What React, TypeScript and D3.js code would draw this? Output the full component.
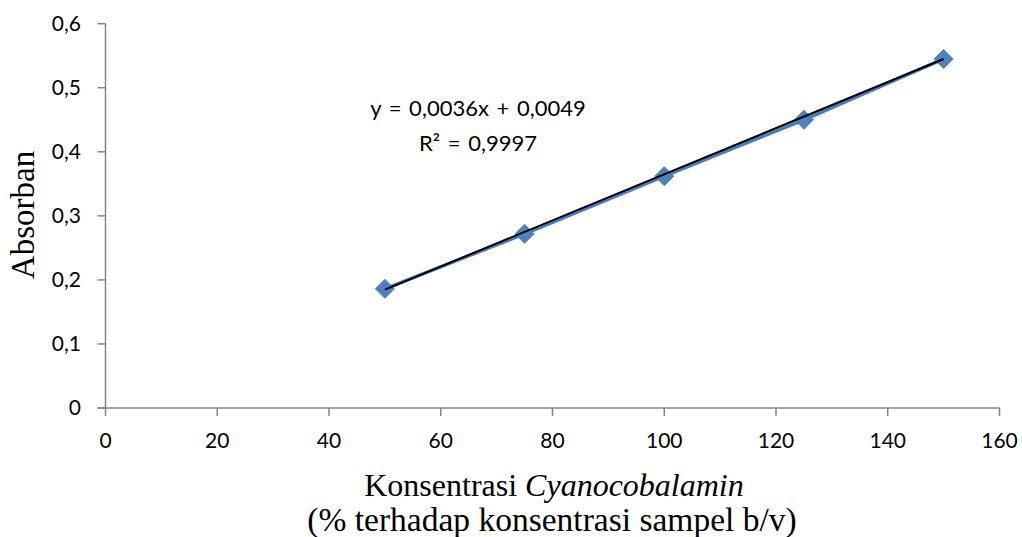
import React from "react";
import * as d3 from "d3";

const concentrations = [50, 75, 100, 125, 150];
const absorbances = [0.186, 0.272, 0.362, 0.45, 0.545];
const xTicks = [0, 20, 40, 60, 80, 100, 120, 140, 160];
const yTicks = [0, 0.1, 0.2, 0.3, 0.4, 0.5, 0.6];
const slope = 0.0036;
const intercept = 0.0049;
const equationLines = ["y = 0,0036x + 0,0049", "R² = 0,9997"];

const W = 1022;
const H = 537;
const tickFont = "Lato, 'Open Sans', sans-serif";
const titleFont = "'Liberation Serif', 'Times New Roman', serif";

export default function App() {
  const x = d3.scaleLinear().domain([0, 160]).range([105.5, 999.5]);
  const y = d3.scaleLinear().domain([0, 0.6]).range([408, 23.7]);
  const pts = concentrations.map((c, i) => [x(c), y(absorbances[i])] as [number, number]);
  const line = d3.line()(pts) || "";
  const tx0 = 50, tx1 = 150;
  const fmt = (v: number) => (v === 0 ? "0" : v.toFixed(1).replace(".", ","));
  const axisColor = "#868686";
  return (
    <svg width={W} height={H} style={{ position: "absolute", left: 0, top: 0, background: "#fff" }}>
      {/* axes */}
      <line x1={x(0)} x2={x(0)} y1={y(0.6)} y2={y(0)} stroke={axisColor} strokeWidth={1.5} />
      <line x1={x(0) - 8} x2={x(160)} y1={y(0)} y2={y(0)} stroke={axisColor} strokeWidth={1.5} />
      {yTicks.map((t) => (
        <g key={"y" + t}>
          <line x1={x(0) - 8} x2={x(0)} y1={y(t)} y2={y(t)} stroke={axisColor} strokeWidth={1.5} />
          <text x={81} y={y(t)} dy="0.35em" textAnchor="end" fontFamily={tickFont} fontSize={21} fill="#000">
            {fmt(t)}
          </text>
        </g>
      ))}
      {xTicks.map((t) => (
        <g key={"x" + t}>
          <line x1={x(t)} x2={x(t)} y1={y(0)} y2={y(0) + 8} stroke={axisColor} strokeWidth={1.5} />
          <text x={x(t)} y={441} dy="0.35em" textAnchor="middle" fontFamily={tickFont} fontSize={21} fill="#000">
            {t}
          </text>
        </g>
      ))}
      {/* series line */}
      <path d={line} fill="none" stroke="#4a7ebb" strokeWidth={3.5} />
      {pts.map(([px, py], i) => (
        <path
          key={"m" + i}
          d={`M${px},${py - 9.5}L${px + 9.5},${py}L${px},${py + 9.5}L${px - 9.5},${py}Z`}
          fill="#4f81bd"
          stroke="#4a7ebb"
          strokeWidth={1}
        />
      ))}
      {/* trendline */}
      <line
        x1={x(tx0)}
        y1={y(slope * tx0 + intercept)}
        x2={x(tx1)}
        y2={y(slope * tx1 + intercept)}
        stroke="#000"
        strokeWidth={2}
      />
      {/* equation */}
      {equationLines.map((s, i) => (
        <text key={"e" + i} x={478} y={108 + i * 35} dy="0.35em" textAnchor="middle" fontFamily={tickFont} fontSize={22} wordSpacing={2} fill="#000">
          {s}
        </text>
      ))}
      {/* y title */}
      <text
        transform={`translate(22,215) rotate(-90)`}
        textAnchor="middle"
        dy="0.35em"
        fontFamily={titleFont}
        fontSize={33}
        fill="#000"
      >
        Absorban
      </text>
      {/* x title */}
      <text x={554} y={496} textAnchor="middle" fontFamily={titleFont} fontSize={32} fill="#000">
        Konsentrasi <tspan fontStyle="italic">Cyanocobalamin</tspan>
      </text>
      <text x={552} y={531} textAnchor="middle" fontFamily={titleFont} fontSize={33.5} fill="#000">
        (% terhadap konsentrasi sampel b/v)
      </text>
    </svg>
  );
}
